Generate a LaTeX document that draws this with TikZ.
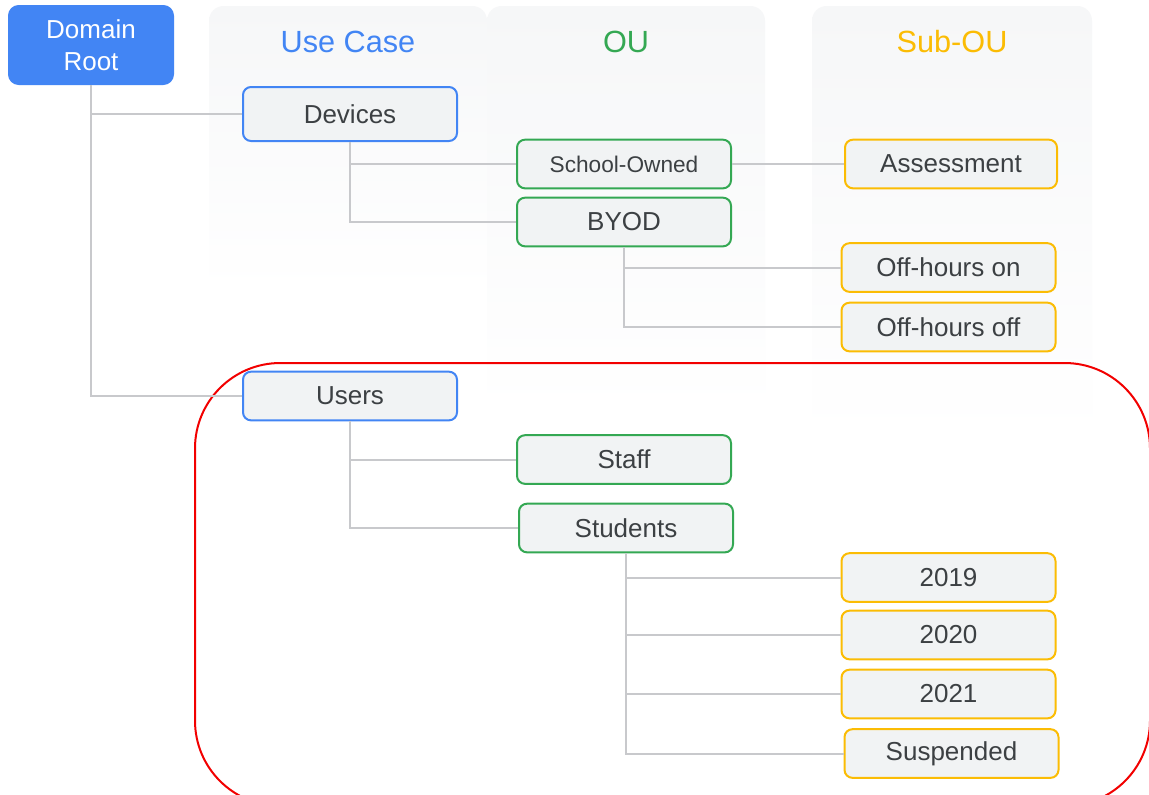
\documentclass[tikz,border=0pt]{standalone}
\usepackage{fontspec}
\setmainfont{Liberation Sans}
\definecolor{gblue}{HTML}{4285F4}
\definecolor{ggreen}{HTML}{34A853}
\definecolor{gyellow}{HTML}{FBBC04}
\definecolor{boxfill}{HTML}{F1F3F4}
\definecolor{txt}{HTML}{3C4043}
\definecolor{conngray}{HTML}{C8C9CC}
\definecolor{colbg}{HTML}{F6F7F8}
\definecolor{redline}{HTML}{F20000}
\tikzset{
  ounode/.style={draw=#1, fill=boxfill, line width=1.5pt, rounded corners=6pt,
    minimum width=160.5pt, minimum height=36.5pt, inner sep=0pt,
    text=txt, font=\fontsize{19.5}{23}\selectfont},
  conn/.style={draw=conngray, line width=1.5pt},
  header/.style={font=\fontsize{23}{27}\selectfont, text=#1},
  colbox/.style={top color=colbg, bottom color=white, rounded corners=11pt, draw=none}
}
\begin{document}
\begin{tikzpicture}[x=0.75pt,y=-0.75pt]
\useasboundingbox (0,0) rectangle (1149,794);
\fill[white] (0,0) rectangle (1149,794);
% column backgrounds
\shade[colbox] (209,6) rectangle (487,292);
\shade[colbox] (487,6) rectangle (765,415);
\shade[colbox] (812,6) rectangle (1092,440);
% headers
\node[header=gblue] (hUse) at (348,42) {Use Case};
\node[header=ggreen] (hOU) at (626,42) {OU};
\node[header=gyellow] (hSub) at (952,42) {Sub-OU};
% red highlight
\begin{scope}
\clip (0,0) rectangle (1149,794);
\draw[redline, line width=1.5pt, rounded corners=64pt] (195,363) rectangle (1150,806);
\end{scope}
% nodes
\node[fill=gblue, rounded corners=8pt, minimum width=124.5pt, minimum height=60pt,
  inner sep=0pt, align=center, text=white, font=\fontsize{19.5}{24}\selectfont]
  (root) at (91,45) {Domain\\Root};
\node[ounode=gblue, minimum height=40.5pt] (dev) at (350,114) {Devices};
\node[ounode=ggreen, font=\fontsize{17}{20}\selectfont] (school) at (624,164) {School-Owned};
\node[ounode=ggreen] (byod) at (624,222) {BYOD};
\node[ounode=gyellow, minimum width=159pt] (assess) at (951,164) {Assessment};
\node[ounode=gyellow] (offon) at (948.5,267.5) {Off-hours on};
\node[ounode=gyellow] (offoff) at (948.5,327) {Off-hours off};
\node[ounode=gblue] (users) at (350,396) {Users};
\node[ounode=ggreen] (staff) at (624,459.5) {Staff};
\node[ounode=ggreen] (students) at (626,528) {Students};
\node[ounode=gyellow] (y2019) at (948.5,577.5) {2019};
\node[ounode=gyellow] (y2020) at (948.5,635) {2020};
\node[ounode=gyellow] (y2021) at (948.5,694) {2021};
\node[ounode=gyellow] (susp) at (951.5,753.5) {Suspended};
% connectors
\draw[conn] (root.south) |- (dev.west);
\draw[conn] (root.south) |- (users.west);
\draw[conn] (dev.south) |- (school.west);
\draw[conn] (dev.south) |- (byod.west);
\draw[conn] (school.east) -- (assess.west);
\draw[conn] (byod.south) |- (offon.west);
\draw[conn] (byod.south) |- (offoff.west);
\draw[conn] (users.south) |- (staff.west);
\draw[conn] (users.south) |- (students.west);
\draw[conn] (students.south) |- (y2019.west);
\draw[conn] (students.south) |- (y2020.west);
\draw[conn] (students.south) |- (y2021.west);
\draw[conn] (students.south) |- (susp.west);
\end{tikzpicture}
\end{document}
